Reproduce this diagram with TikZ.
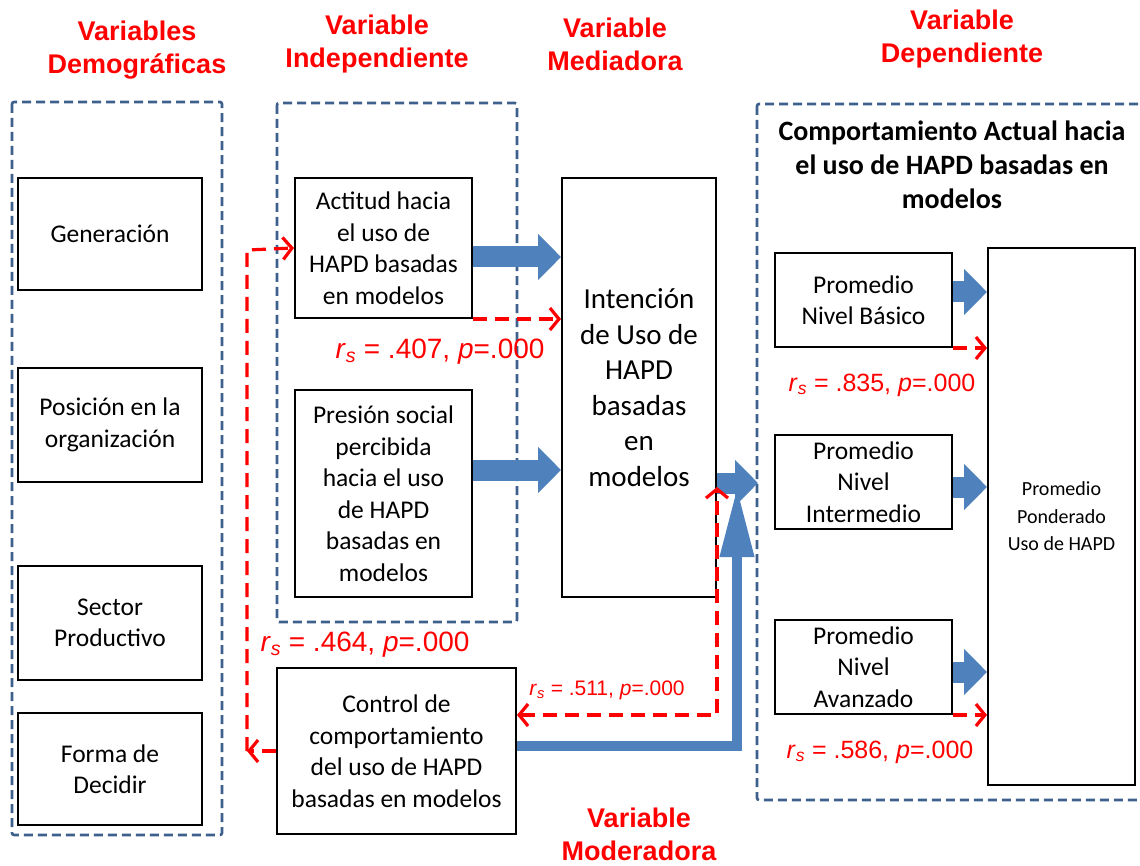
\documentclass[tikz,border=0pt]{standalone}
\usepackage{fontspec}
\setmainfont{Carlito}
\newfontfamily\arialf{Liberation Sans}
\usetikzlibrary{arrows.meta,positioning}
\definecolor{azul}{RGB}{79,129,189}
\definecolor{grupoazul}{RGB}{62,96,140}
\definecolor{rojo}{RGB}{255,0,0}

\begin{document}
\begin{tikzpicture}[x=1pt, y=-1pt,
    caja/.style={draw, line width=2pt, align=center, inner sep=0pt,
      font=\fontsize{25.5}{31.5}\selectfont},
    grupo/.style={draw=grupoazul, line width=2.6pt, dash pattern=on 9pt off 5pt,
      rounded corners=2pt},
    titulo/.style={text=rojo, align=center,
      font=\arialf\bfseries\fontsize{27}{33}\selectfont},
    flecha/.style={draw=azul, line width=21pt, -{Triangle[length=23pt, width=45pt]}},
    corr/.style={draw=rojo, line width=3.2pt, dash pattern=on 14pt off 8pt},
    rs/.style={text=rojo, font=\arialf\fontsize{#1}{#1}\selectfont},
    >={Straight Barb[length=9pt, width=22pt]}]
  \path[fill=white, use as bounding box] (0,0) rectangle (1140,866);

  \node[titulo] (tdem) at (137,50) {Variables\\Demográficas};
  \node[titulo] (tind) at (377,44) {Variable\\Independiente};
  \node[titulo] (tmed) at (615,44) {Variable\\Mediadora};
  \node[titulo] (tdep) at (962,39) {Variable\\Dependiente};
  \node[titulo] (tmod) at (639,834) {Variable\\Moderadora};

  \draw[grupo] (12,102) rectangle (222,835);
  \draw[grupo] (277,103) rectangle (517,622);
  \draw[grupo] (757,104) rectangle (1150,800);

  \node[caja, minimum width=184pt, minimum height=112pt] (gen) at (110,234) {Generación};
  \node[caja, minimum width=184pt, minimum height=114pt] (pos) at (110,425) {Posición en la\\organización};
  \node[caja, minimum width=184pt, minimum height=114pt] (sec) at (110,623) {Sector\\Productivo};
  \node[caja, minimum width=184pt, minimum height=112pt] (dec) at (110,769) {Forma de\\Decidir};

  \node[caja, minimum width=177pt, minimum height=140pt] (act) at (383.5,248) {Actitud hacia\\el uso de\\HAPD basadas\\en modelos};
  \node[caja, minimum width=177pt, minimum height=207pt] (pre) at (383.5,493.5) {Presión social\\percibida\\hacia el uso\\de HAPD\\basadas en\\modelos};
  \node[caja, minimum width=154pt, minimum height=419pt, font=\fontsize{29}{35.5}\selectfont] (int) at (639,387.5) {Intención\\de Uso de\\HAPD\\basadas\\en\\modelos};
  \node[caja, minimum width=239pt, minimum height=166pt] (ctl) at (396.5,751) {Control de\\comportamiento\\del uso de HAPD\\basadas en modelos};

  \node[align=center, font=\bfseries\fontsize{28}{34}\selectfont] (tcomp) at (952,165) {Comportamiento Actual hacia\\el uso de HAPD basadas en\\modelos};
  \node[caja, minimum width=177pt, minimum height=94pt] (bas) at (863.5,300) {Promedio\\Nivel Básico};
  \node[caja, minimum width=177pt, minimum height=94pt] (itm) at (863.5,482) {Promedio\\Nivel\\Intermedio};
  \node[caja, minimum width=177pt, minimum height=94pt] (avz) at (863.5,667) {Promedio\\Nivel\\Avanzado};
  \node[caja, minimum width=147pt, minimum height=537pt, font=\fontsize{20}{27.5}\selectfont] (pond) at (1061.5,516.5) {Promedio\\Ponderado\\Uso de HAPD};

  % flechas azules
  \draw[flecha] (act.east |- 0,257) -- (int.west |- 0,257);
  \draw[flecha] (pre.east |- 0,470) -- (int.west |- 0,470);
  \draw[flecha] (int.east |- 0,483) -- (758,483);
  \draw[flecha] (bas.east |- 0,292) -- (pond.west |- 0,292);
  \draw[flecha] (itm.east |- 0,487) -- (pond.west |- 0,487);
  \draw[flecha] (avz.east |- 0,672) -- (pond.west |- 0,672);
  \draw[draw=azul, line width=10pt, -{Triangle[length=70pt, width=32pt]}]
    (ctl.east |- 0,746) -- (737,746) -- (737,487);

  % correlaciones
  \coordinate (esqa) at (247,751);
  \coordinate (esqb) at (247,250);
  \coordinate (esqc) at (717,715);
  \draw[corr, ->] (act.south east) -- (act.south east -| int.west);
  \draw[corr, ->] (ctl.west) -- (esqa);
  \draw[corr, ->] (esqa) -- (esqb) -- (act.west);
  \draw[corr, <->] (ctl.east |- esqc) -- (esqc) -- (esqc |- 0,487);
  \draw[corr, ->] (bas.south east) -- (bas.south east -| pond.west);
  \draw[corr, ->] (avz.south east) -- (avz.south east -| pond.west);

  \node[rs=28] (r407) at (440,352) {\textit{r}\textsubscript{\textit{s}} = .407, \textit{p}=.000};
  \node[rs=28] (r464) at (365,645) {\textit{r}\textsubscript{\textit{s}} = .464, \textit{p}=.000};
  \node[rs=21] (r511) at (607,690) {\textit{r}\textsubscript{\textit{s}} = .511, \textit{p}=.000};
  \node[rs=25] (r835) at (882,385) {\textit{r}\textsubscript{\textit{s}} = .835, \textit{p}=.000};
  \node[rs=25] (r586) at (880,752) {\textit{r}\textsubscript{\textit{s}} = .586, \textit{p}=.000};
\end{tikzpicture}
\end{document}
